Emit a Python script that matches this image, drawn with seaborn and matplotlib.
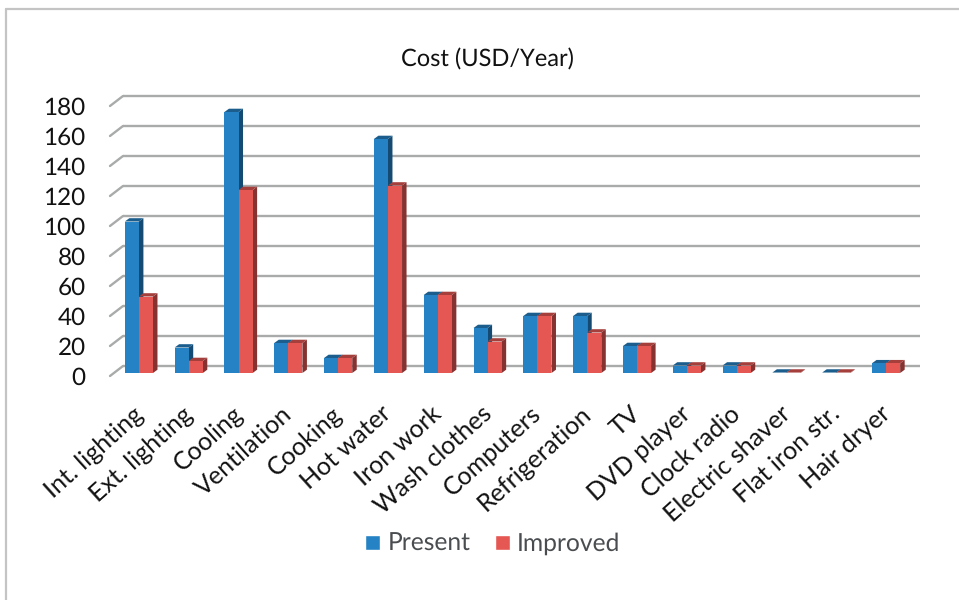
import matplotlib
matplotlib.use('Agg')
import matplotlib.pyplot as plt
import pandas as pd
import seaborn as sns
from matplotlib.lines import Line2D
from matplotlib.patches import Polygon
from matplotlib.transforms import Affine2D

categories = ['Int. lighting', 'Ext. lighting', 'Cooling', 'Ventilation', 'Cooking', 'Hot water',
              'Iron work', 'Wash clothes', 'Computers', 'Refrigeration', 'TV', 'DVD player',
              'Clock radio', 'Electric shaver', 'Flat iron str.', 'Hair dryer']
present = [101, 17, 174, 20, 10, 156, 52, 30, 38, 38, 18, 5, 5, 0.3, 0.3, 6.5]
improved = [51, 8, 122, 20, 10, 125, 52, 21, 38, 27, 18, 5, 5, 0.3, 0.3, 6.5]
y_ticks = list(range(0, 181, 20))

W, H = 959, 600
TEXT = '#111111'
GRID = '#a9abab'


def shade(color, f):
    r, g, b = matplotlib.colors.to_rgb(color)
    return (r * f, g * f, b * f)


def add_depth(ax, bar, color, dx=4.5, dy=3.3):
    # side and top faces of a bar, pixel offsets in display space
    x0, x1 = bar.get_x(), bar.get_x() + bar.get_width()
    top = bar.get_height()
    p = ax.transData.transform([(x0, top), (x1, top), (x1, 0)])
    (ax_, ay), (bx, by), (cx, cy) = p
    side = [(bx, by), (bx + dx, by + dy), (cx + dx, cy + dy), (cx, cy)]
    roof = [(ax_, ay), (ax_ + dx, ay + dy), (bx + dx, by + dy), (bx, by)]
    ax.add_patch(Polygon(side, transform=None, fc=shade(color, 0.58), ec='none', zorder=3))
    ax.add_patch(Polygon(roof, transform=None, fc=shade(color, 0.72), ec='none', zorder=3))


df = pd.DataFrame({'category': categories * 2,
                   'value': present + improved,
                   'series': ['Present'] * len(categories) + ['Improved'] * len(categories)})

sns.set_theme(style='white')
plt.rcParams['font.family'] = ['Lato', 'DejaVu Sans']
plt.rcParams['text.hinting'] = 'none'

fig = plt.figure(figsize=(W / 100, H / 100), dpi=100)
ax = fig.add_axes([114 / W, 1 - 373 / H, 797 / W, 270 / H])
palette = {'Present': '#2582c4', 'Improved': '#e55753'}
sns.barplot(data=df, x='category', y='value', hue='series', palette=palette, order=categories,
            width=0.565, saturation=1, dodge=True, ax=ax, zorder=3)
ax.set_ylim(0, 180)
ax.set_xlim(-0.5, len(categories) - 0.5)

# grid on the back wall, with the diagonal floor/wall joints
back = ax.transData + Affine2D().translate(9, 7)
for t in y_ticks:
    ax.plot([-0.5, len(categories) - 0.5], [t, t], color=GRID, lw=1.7, transform=back, zorder=1,
            clip_on=False, solid_capstyle='butt')
    x0, y0 = ax.transData.transform((-0.5, t))
    ax.plot([x0 - 4, x0 + 9], [y0 - 3, y0 + 7], color=GRID, lw=1.7, transform=None, zorder=1, clip_on=False)

fig.canvas.draw()
for container, name in zip(ax.containers, ['Present', 'Improved']):
    for bar in container:
        bar.set_linewidth(0)
        add_depth(ax, bar, palette[name])
        bar.set_zorder(4)

sns.despine(ax=ax, left=True, bottom=True)
ax.set_xlabel('')
ax.set_ylabel('')
ax.set_yticks(y_ticks)
ax.tick_params(axis='y', length=0, pad=20.5, labelsize=17.5, labelcolor=TEXT)
ax.tick_params(axis='x', length=0, pad=21)
ax.set_xticks(range(len(categories)))
ax.set_xticklabels(categories, rotation=42, ha='right', rotation_mode='anchor', fontsize=18, color=TEXT)
for lab in ax.get_xticklabels():
    lab.set_transform(lab.get_transform() + Affine2D().translate(-7, 0))
for lab in ax.get_yticklabels():
    lab.set_transform(lab.get_transform() + Affine2D().translate(0, -3))

fig.text(487 / W, 1 - 60 / H, 'Cost (USD/Year)', ha='center', va='center', fontsize=17, color=TEXT)

handles, labels = ax.get_legend_handles_labels()
ax.legend_.remove()
fig.legend(handles, labels, loc='center', bbox_to_anchor=(493 / W, 1 - 544 / H), ncol=2, frameon=False,
           fontsize=17.7, labelcolor='#4a4d50', handlelength=0.6, handleheight=0.6,
           handletextpad=0.3, columnspacing=1.0)

# page frame: only the left and top edges are visible
frame = dict(color='#c4c4c4', lw=1.6, transform=fig.transFigure)
fig.add_artist(Line2D([6 / W, 6 / W], [0, 1 - 9 / H], **frame))
fig.add_artist(Line2D([6 / W, 1], [1 - 9 / H, 1 - 9 / H], **frame))
fig.savefig('out.png', dpi=100, facecolor='white')
